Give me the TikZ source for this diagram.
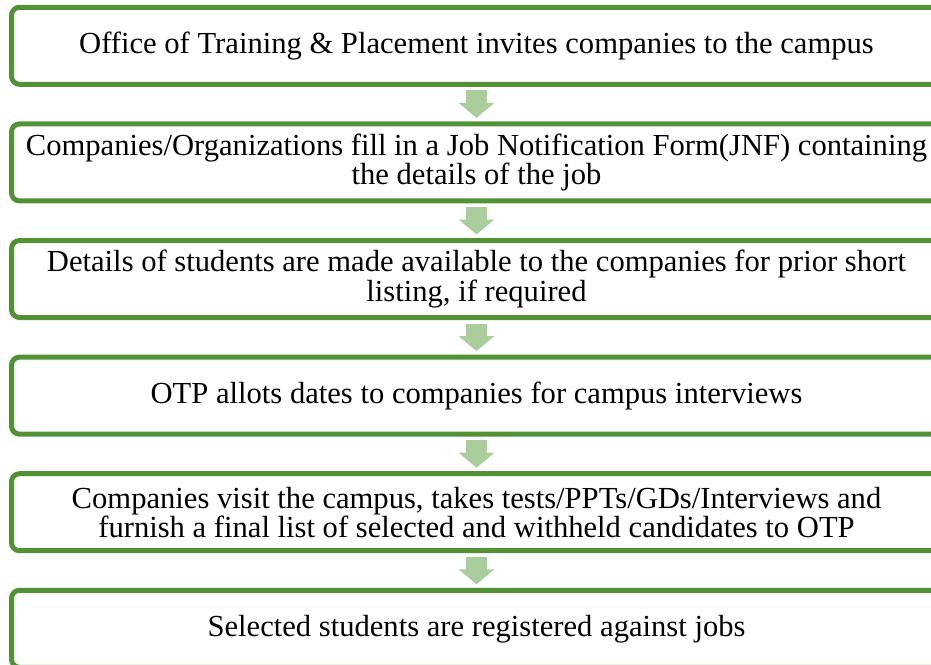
\documentclass[tikz,border=0pt]{standalone}
\usepackage{fontspec}
\setmainfont{Liberation Serif}
\usepackage{tikz}
\usetikzlibrary{positioning,arrows.meta}

\definecolor{boxgreen}{RGB}{80,146,52}
\definecolor{arrowgreen}{RGB}{169,205,155}

\begin{document}
\begin{tikzpicture}[x=1pt,y=-1pt,
        stepbox/.style={draw=boxgreen, line width=5pt, rounded corners=8pt,
            minimum width=930pt, minimum height=77pt, inner sep=1pt, outer sep=0pt,
            align=center, font=\fontsize{30.6pt}{28pt}\selectfont},
        flowarrow/.style={draw=arrowgreen, line width=21pt,
            -{Triangle[width=35pt,length=15pt]}},
        node distance=39.6pt]
        % Visible area (boxes run past the right and bottom edges)
        \clip (0,0) rectangle (931,664);
        
        % Steps of the placement procedure
        \node[stepbox] (invite) at (476.5,45.8) {Office of Training \& Placement invites companies to the campus};
        \node[stepbox, below=of invite] (jnf) {Companies/Organizations fill in a Job Notification Form(JNF) containing\\the details of the job};
        \node[stepbox, below=of jnf] (details) {Details of students are made available to the companies for prior short\\listing, if required};
        \node[stepbox, below=of details] (dates) {OTP allots dates to companies for campus interviews};
        \node[stepbox, below=of dates] (visit) {Companies visit the campus, takes tests/PPTs/GDs/Interviews and\\furnish a final list of selected and withheld candidates to OTP};
        \node[stepbox, below=of visit] (register) {Selected students are registered against jobs};
        
        % Block arrows between the steps
        \draw[flowarrow] ([yshift=-6pt]invite.south) -- ([yshift=6pt]jnf.north);
        \draw[flowarrow] ([yshift=-6pt]jnf.south) -- ([yshift=6pt]details.north);
        \draw[flowarrow] ([yshift=-6pt]details.south) -- ([yshift=6pt]dates.north);
        \draw[flowarrow] ([yshift=-6pt]dates.south) -- ([yshift=6pt]visit.north);
        \draw[flowarrow] ([yshift=-6pt]visit.south) -- ([yshift=6pt]register.north);
        
\end{tikzpicture}
\end{document}
